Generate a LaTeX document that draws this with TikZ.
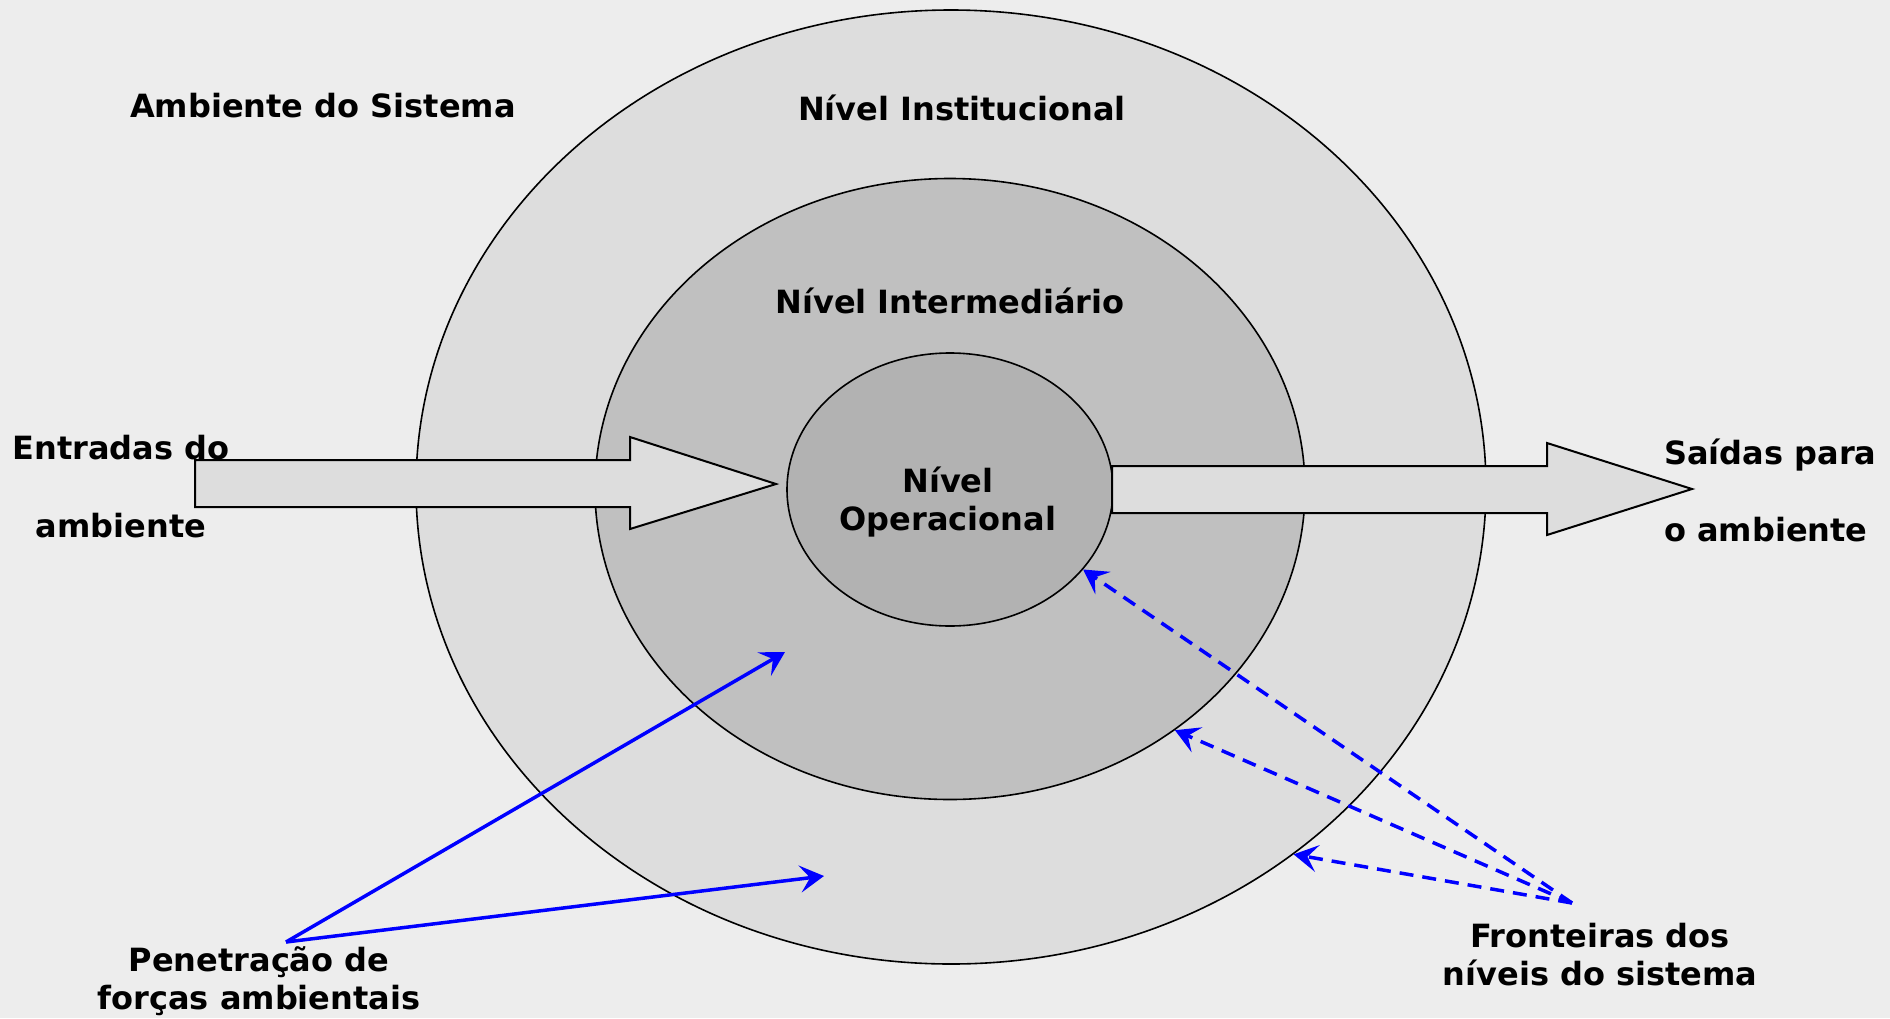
\documentclass[tikz,border=0pt]{standalone}
\usepackage{fontspec}
\setmainfont{DejaVu Sans}
\usetikzlibrary{arrows.meta, shapes.geometric}
\definecolor{bggray}{RGB}{237, 237, 237}
\definecolor{ringout}{RGB}{221, 221, 221}
\definecolor{ringmid}{RGB}{192, 192, 192}
\definecolor{ringin}{RGB}{178, 178, 178}
\definecolor{forceblue}{RGB}{0, 0, 255}

\begin{document}
\begin{tikzpicture}[x=1pt, y=-1pt,
  ring/.style={ellipse, draw=black, line width=1.6pt, inner sep=0pt},
  txt/.style={font=\bfseries\fontsize{32}{38}\selectfont, inner sep=0pt, anchor=base},
  blockarrow/.style={draw=black, line width=2pt, fill=ringout, line join=miter},
  forcearrow/.style={draw=forceblue, line width=3.5pt,
    -{Stealth[length=24pt, width=27pt, inset=10pt]}},
  boundarrow/.style={forcearrow, dash pattern=on 14pt off 9pt}]

  % Background
  \fill[bggray] (0,0) rectangle (1890,1018);

  % Levels
  \node[ring, fill=ringout, minimum width=1070pt, minimum height=954pt]
    (outer) at (951,487) {};
  \node[ring, fill=ringmid, minimum width=710pt, minimum height=621pt]
    (middle) at (950,489) {};
  \node[ring, fill=ringin, minimum width=326pt, minimum height=273pt]
    (inner) at (950,489.5) {};

  % Inputs and outputs
  \draw[blockarrow] (195,460) -- (630,460) -- (630,437) -- (776,484)
    -- (630,529) -- (630,507) -- (195,507) -- cycle;
  \draw[blockarrow] (1112,466) -- (1547,466) -- (1547,443) -- (1692,489)
    -- (1547,535) -- (1547,513) -- (1112,513) -- cycle;

  % Labels (multi-line ones sit on their last baseline)
  \node[txt] (amb) at (323,117) {Ambiente do Sistema};
  \node[txt] (inst) at (962,120) {Nível Institucional};
  \node[txt] (inter) at (950,313) {Nível Intermediário};
  \node[txt, align=center] (oper) at (948,530) {Nível\\Operacional};
  \node[txt, align=center] (entr) at (121,537) {Entradas do\\[40pt]ambiente};
  \node[txt, align=left, anchor=base west] (said) at (1664,541)
    {Saídas para\\[39pt]o ambiente};
  \node[txt, align=center] (pen) at (259,1009) {Penetração de\\forças ambientais};
  \node[txt, align=center] (fron) at (1600,985) {Fronteiras dos\\níveis do sistema};

  % Environmental forces
  \coordinate (pensrc) at (286,942);
  \coordinate (penmid) at (785,652);
  \coordinate (penout) at (824,876);
  \draw[forcearrow] (pensrc) -- (penmid);
  \draw[forcearrow] (pensrc) -- (penout);

  % Boundaries
  \coordinate (fronsrc) at (1572,903);
  \draw[boundarrow] (fronsrc) -- (inner.-31.4);
  \draw[boundarrow] (fronsrc) -- (middle.-47.3);
  \draw[boundarrow] (fronsrc) -- (outer.-47.5);
\end{tikzpicture}
\end{document}
